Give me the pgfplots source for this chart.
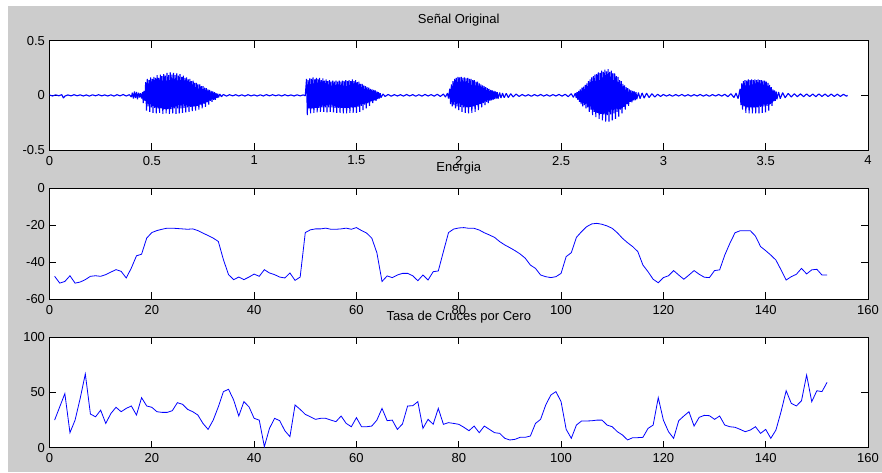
\documentclass[border=0pt]{standalone}
\usepackage{fontspec}
\setmainfont{Liberation Sans}
\usepackage{pgfplots}
\pgfplotsset{compat=1.18}

\pgfplotsset{
  matlab/.style={
    scale only axis, width=818.5pt, anchor=south west,
    axis background/.style={fill=white},
    axis line style={black, line width=0.8pt},
    tick align=inside, tick pos=both,
    major tick length=7pt,
    every tick/.style={black, line width=0.8pt},
    tick label style={font=\fontsize{13}{15}\selectfont},
    xticklabel style={yshift=-2.5pt},
    yticklabel style={xshift=-1pt},
    title style={font=\fontsize{13}{15}\selectfont, at={(0.5,1)}, anchor=base, yshift=11pt, inner sep=0pt},
  },
}

\begin{document}
\begin{tikzpicture}
\path[use as bounding box] (0,0) rectangle (882pt,472pt);
\fill[white] (0,0) rectangle (882pt,472pt);
\fill[black!20] (8pt,0) rectangle (882pt,466pt);

% --- original signal ---
\begin{axis}[matlab, at={(49.5pt,322pt)}, height=109.3pt,
  xmin=0, xmax=4, ymin=-0.5, ymax=0.5,
  xtick={0,0.5,1,1.5,2,2.5,3,3.5,4}, xticklabels={0,0.5,1,1.5,2,2.5,3,3.5,4},
  ytick={-0.5,0,0.5}, yticklabels={-0.5,0,0.5},
  title={Señal Original}]
\addplot[blue, line width=1.1pt, line join=bevel] coordinates {
(0.000,0.004) (0.015,-0.006) (0.030,0.005) (0.045,-0.004) (0.060,0.006) (0.068,-0.025) (0.075,-0.007) (0.090,0.004)
(0.105,-0.005) (0.120,0.006) (0.135,-0.004) (0.150,0.005) (0.165,-0.006) (0.180,0.004) (0.195,-0.007) (0.210,0.005)
(0.225,-0.004) (0.240,0.006) (0.255,-0.005) (0.270,0.004) (0.285,-0.006) (0.300,0.005) (0.315,-0.007) (0.330,0.006)
(0.345,-0.005) (0.360,0.008) (0.375,-0.006) (0.390,0.006)
(0.400,-0.015) (0.405,0.025) (0.410,-0.030) (0.415,0.035) (0.420,-0.025) (0.425,0.030) (0.430,-0.035) (0.435,0.025)
(0.440,-0.020) (0.445,0.020) (0.450,-0.030) (0.455,0.030) (0.458,-0.070) (0.462,0.040) (0.466,-0.050)
(0.470,0.120) (0.474,-0.140) (0.478,0.150) (0.482,-0.100) (0.486,0.140) (0.490,-0.150) (0.494,0.165) (0.498,-0.110)
(0.502,0.150) (0.506,-0.160) (0.510,0.170) (0.514,-0.115) (0.518,0.160) (0.522,-0.165) (0.526,0.185) (0.530,-0.120)
(0.534,0.160) (0.538,-0.160) (0.542,0.190) (0.546,-0.120) (0.550,0.175) (0.554,-0.170) (0.558,0.195) (0.562,-0.125)
(0.566,0.180) (0.570,-0.165) (0.574,0.205) (0.578,-0.125) (0.582,0.185) (0.586,-0.170) (0.590,0.210) (0.594,-0.125)
(0.598,0.190) (0.602,-0.165) (0.606,0.205) (0.610,-0.120) (0.614,0.185) (0.618,-0.170) (0.622,0.200) (0.626,-0.120)
(0.630,0.180) (0.634,-0.165) (0.638,0.195) (0.642,-0.120) (0.646,0.170) (0.650,-0.160) (0.654,0.180) (0.658,-0.115)
(0.662,0.160) (0.666,-0.155) (0.670,0.165) (0.674,-0.110) (0.678,0.145) (0.682,-0.150) (0.686,0.150) (0.690,-0.105)
(0.694,0.130) (0.698,-0.145) (0.702,0.135) (0.706,-0.100) (0.710,0.115) (0.714,-0.140) (0.718,0.115) (0.722,-0.095)
(0.726,0.100) (0.730,-0.130) (0.734,0.100) (0.738,-0.085) (0.742,0.085) (0.746,-0.120) (0.750,0.085) (0.754,-0.075)
(0.758,0.070) (0.762,-0.105) (0.766,0.065) (0.770,-0.065) (0.774,0.055) (0.778,-0.085) (0.782,0.050) (0.786,-0.050)
(0.790,0.040) (0.794,-0.060) (0.798,0.035) (0.802,-0.040) (0.806,0.030) (0.810,-0.040) (0.814,0.020) (0.818,-0.025)
(0.822,0.015) (0.826,-0.020)
(0.832,0.012) (0.840,-0.012) (0.850,0.008) (0.865,-0.007) (0.880,0.006) (0.895,-0.005) (0.910,0.006) (0.925,-0.006)
(0.940,0.005) (0.955,-0.007) (0.970,0.006) (0.985,-0.005) (1.000,0.004) (1.015,-0.006) (1.030,0.005) (1.045,-0.006)
(1.060,0.007) (1.075,-0.005) (1.090,0.006) (1.105,-0.004) (1.120,0.005) (1.135,-0.006) (1.150,0.006) (1.165,-0.005)
(1.180,0.004) (1.195,-0.006) (1.210,0.005) (1.225,-0.005) (1.240,0.004) (1.250,-0.004)
(1.256,0.150) (1.260,-0.180) (1.264,0.140) (1.268,-0.120) (1.272,0.155) (1.276,-0.165) (1.280,0.150) (1.284,-0.120)
(1.288,0.165) (1.292,-0.160) (1.296,0.145) (1.300,-0.115) (1.304,0.160) (1.308,-0.155) (1.312,0.150) (1.316,-0.115)
(1.320,0.160) (1.324,-0.150) (1.328,0.140) (1.332,-0.110) (1.336,0.155) (1.340,-0.150) (1.344,0.135) (1.348,-0.110)
(1.352,0.145) (1.356,-0.155) (1.360,0.130) (1.364,-0.110) (1.368,0.140) (1.372,-0.150) (1.376,0.125) (1.380,-0.110)
(1.384,0.135) (1.388,-0.155) (1.392,0.125) (1.396,-0.115) (1.400,0.135) (1.404,-0.160) (1.408,0.125) (1.412,-0.115)
(1.416,0.135) (1.420,-0.160) (1.424,0.125) (1.428,-0.115) (1.432,0.135) (1.436,-0.165) (1.440,0.130) (1.444,-0.115)
(1.448,0.140) (1.452,-0.165) (1.456,0.130) (1.460,-0.115) (1.464,0.140) (1.468,-0.160) (1.472,0.130) (1.476,-0.110)
(1.480,0.145) (1.484,-0.160) (1.488,0.130) (1.492,-0.110) (1.496,0.140) (1.500,-0.160) (1.504,0.120) (1.508,-0.105)
(1.512,0.125) (1.516,-0.150) (1.520,0.105) (1.524,-0.095) (1.528,0.105) (1.532,-0.135) (1.536,0.090) (1.540,-0.085)
(1.544,0.085) (1.548,-0.120) (1.552,0.075) (1.556,-0.070) (1.560,0.070) (1.564,-0.095) (1.568,0.060) (1.572,-0.055)
(1.576,0.055) (1.580,-0.070) (1.584,0.050) (1.588,-0.045) (1.592,0.045) (1.596,-0.050) (1.600,0.035) (1.604,-0.035)
(1.608,0.030) (1.612,-0.030) (1.616,0.020) (1.620,-0.020)
(1.630,0.012) (1.640,-0.010) (1.655,0.008) (1.670,-0.008) (1.685,0.007) (1.700,-0.006) (1.715,0.006) (1.730,-0.007)
(1.745,0.008) (1.760,-0.006) (1.775,0.007) (1.790,-0.008) (1.805,0.006) (1.820,-0.007) (1.835,0.008) (1.850,-0.006)
(1.865,0.007) (1.880,-0.008) (1.895,0.010) (1.910,-0.010) (1.925,0.012) (1.935,-0.015) (1.945,0.020) (1.950,-0.030)
(1.956,0.060) (1.960,-0.080) (1.964,0.100) (1.968,-0.100) (1.972,0.130) (1.976,-0.090) (1.980,0.150) (1.984,-0.120)
(1.988,0.160) (1.992,-0.100) (1.996,0.170) (2.000,-0.135) (2.004,0.165) (2.008,-0.105) (2.012,0.170) (2.016,-0.150)
(2.020,0.160) (2.024,-0.110) (2.028,0.165) (2.032,-0.160) (2.036,0.155) (2.040,-0.110) (2.044,0.160) (2.048,-0.165)
(2.052,0.150) (2.056,-0.105) (2.060,0.150) (2.064,-0.160) (2.068,0.140) (2.072,-0.100) (2.076,0.140) (2.080,-0.150)
(2.084,0.125) (2.088,-0.090) (2.092,0.125) (2.096,-0.135) (2.100,0.110) (2.104,-0.080) (2.108,0.100) (2.112,-0.110)
(2.116,0.090) (2.120,-0.070) (2.124,0.085) (2.128,-0.090) (2.132,0.075) (2.136,-0.060) (2.140,0.065) (2.144,-0.070)
(2.148,0.060) (2.152,-0.050) (2.156,0.050) (2.160,-0.045) (2.164,0.045) (2.168,-0.040) (2.172,0.040) (2.176,-0.035)
(2.180,0.035) (2.184,-0.030) (2.188,0.030) (2.192,-0.030)
(2.200,0.025) (2.206,-0.025) (2.214,0.020) (2.222,-0.022) (2.232,0.018) (2.242,-0.020) (2.254,0.015) (2.266,-0.015)
(2.280,0.012) (2.295,-0.010)
(2.310,0.008) (2.325,-0.007) (2.340,0.006) (2.355,-0.008) (2.370,0.007) (2.385,-0.006) (2.400,0.008) (2.415,-0.007)
(2.430,0.006) (2.445,-0.008) (2.460,0.007) (2.475,-0.006) (2.490,0.008) (2.505,-0.007) (2.520,0.010) (2.535,-0.012)
(2.550,0.015) (2.560,-0.018)
(2.570,0.020) (2.574,-0.025) (2.578,0.030) (2.582,-0.040) (2.586,0.040) (2.590,-0.060) (2.594,0.055) (2.598,-0.080)
(2.602,0.070) (2.606,-0.100) (2.610,0.080) (2.614,-0.090) (2.618,0.095) (2.622,-0.120) (2.626,0.110) (2.630,-0.110)
(2.634,0.130) (2.638,-0.150) (2.642,0.145) (2.646,-0.130) (2.650,0.165) (2.654,-0.180) (2.658,0.175) (2.662,-0.150)
(2.666,0.190) (2.670,-0.200) (2.674,0.195) (2.678,-0.160) (2.682,0.210) (2.686,-0.215) (2.690,0.205) (2.694,-0.170)
(2.698,0.225) (2.702,-0.230) (2.706,0.215) (2.710,-0.175) (2.714,0.235) (2.718,-0.240) (2.722,0.220) (2.726,-0.180)
(2.730,0.240) (2.734,-0.240) (2.738,0.215) (2.742,-0.175) (2.746,0.225) (2.750,-0.230) (2.754,0.200) (2.758,-0.165)
(2.762,0.200) (2.766,-0.215) (2.770,0.175) (2.774,-0.150) (2.778,0.170) (2.782,-0.195) (2.786,0.140) (2.790,-0.130)
(2.794,0.130) (2.798,-0.165) (2.802,0.105) (2.806,-0.105) (2.810,0.090) (2.814,-0.130) (2.818,0.075) (2.822,-0.080)
(2.826,0.065) (2.830,-0.095) (2.834,0.055) (2.838,-0.060) (2.842,0.045) (2.846,-0.065) (2.850,0.040) (2.854,-0.045)
(2.858,0.035) (2.862,-0.045) (2.866,0.030) (2.870,-0.035) (2.878,0.025) (2.886,-0.030) (2.896,0.022) (2.906,-0.025)
(2.918,0.020) (2.930,-0.020) (2.944,0.015) (2.958,-0.015)
(2.972,0.010) (2.986,-0.010) (3.000,0.008) (3.015,-0.007) (3.030,0.006) (3.045,-0.008) (3.060,0.007) (3.075,-0.006)
(3.090,0.008) (3.105,-0.007) (3.120,0.006) (3.135,-0.008) (3.150,0.007) (3.165,-0.006) (3.180,0.008) (3.195,-0.007)
(3.210,0.006) (3.225,-0.008) (3.240,0.007) (3.255,-0.006) (3.270,0.008) (3.285,-0.007) (3.300,0.010) (3.315,-0.012)
(3.330,0.015) (3.345,-0.020) (3.355,0.020) (3.365,-0.030)
(3.375,0.060) (3.379,-0.090) (3.383,0.110) (3.387,-0.130) (3.391,0.130) (3.395,-0.100) (3.399,0.140) (3.403,-0.160)
(3.407,0.135) (3.411,-0.110) (3.415,0.145) (3.419,-0.165) (3.423,0.140) (3.427,-0.110) (3.431,0.145) (3.435,-0.165)
(3.439,0.140) (3.443,-0.110) (3.447,0.145) (3.451,-0.165) (3.455,0.140) (3.459,-0.110) (3.463,0.145) (3.467,-0.165)
(3.471,0.140) (3.475,-0.105) (3.479,0.140) (3.483,-0.160) (3.487,0.135) (3.491,-0.100) (3.495,0.135) (3.499,-0.155)
(3.503,0.125) (3.507,-0.095) (3.511,0.115) (3.515,-0.140) (3.519,0.095) (3.523,-0.080) (3.527,0.075) (3.531,-0.095)
(3.535,0.055) (3.539,-0.055) (3.543,0.045) (3.547,-0.050) (3.551,0.035) (3.555,-0.035) (3.563,0.030) (3.571,-0.030)
(3.583,0.025) (3.595,-0.022)
(3.610,0.018) (3.625,-0.015) (3.640,0.015) (3.655,-0.012) (3.670,0.014) (3.685,-0.012) (3.700,0.013) (3.715,-0.011)
(3.730,0.012) (3.745,-0.012) (3.760,0.013) (3.775,-0.010) (3.790,0.012) (3.805,-0.011) (3.820,0.012) (3.835,-0.010)
(3.850,0.011) (3.865,-0.010) (3.880,0.010) (3.895,-0.008) (3.900,0.000)
};
\end{axis}

% --- energy ---
\begin{axis}[matlab, at={(49.5pt,173pt)}, height=110.7pt,
  xmin=0, xmax=160, ymin=-60, ymax=0,
  xtick={0,20,...,160}, xticklabels={0,20,40,60,80,100,120,140,160},
  ytick={-60,-40,-20,0}, yticklabels={-60,-40,-20,0},
  title={Energia}]
\addplot[blue, line width=0.8pt] coordinates {
(1,-47.7) (2,-51.4) (3,-50.5) (4,-47.4) (5,-51.4) (6,-50.8) (7,-49.5) (8,-47.7) (9,-47.4) (10,-47.7)
(11,-46.8) (12,-45.4) (13,-44.1) (14,-45.0) (15,-48.6) (16,-43.2) (17,-36.6) (18,-35.7) (19,-27.0) (20,-24.0)
(21,-22.9) (22,-22.2) (23,-21.6) (24,-21.6) (25,-21.8) (26,-22.0) (27,-22.2) (28,-22.0) (29,-22.9) (30,-24.3)
(31,-25.6) (32,-27.0) (33,-28.8) (34,-38.7) (35,-46.8) (36,-49.5) (37,-48.1) (38,-49.5) (39,-48.1) (40,-46.5)
(41,-47.7) (42,-44.1) (43,-45.9) (44,-46.8) (45,-48.1) (46,-48.6) (47,-45.9) (48,-49.9) (49,-48.1) (50,-24.0)
(51,-22.5) (52,-22.0) (53,-22.0) (54,-21.6) (55,-22.2) (56,-22.2) (57,-22.0) (58,-21.6) (59,-22.2) (60,-21.3)
(61,-22.9) (62,-24.3) (63,-27.0) (64,-35.0) (65,-50.5) (66,-47.5) (67,-48.4) (68,-47.0) (69,-46.1) (70,-46.1)
(71,-47.4) (72,-50.1) (73,-47.0) (74,-49.7) (75,-45.2) (76,-44.8) (77,-34.3) (78,-24.0) (79,-22.1) (80,-21.5)
(81,-21.3) (82,-21.7) (83,-21.7) (84,-22.6) (85,-24.1) (86,-25.3) (87,-26.6) (88,-28.9) (89,-30.7) (90,-32.2)
(91,-33.8) (92,-35.6) (93,-37.9) (94,-41.6) (95,-43.4) (96,-47.0) (97,-47.9) (98,-48.4) (99,-47.9) (100,-46.1)
(101,-37.0) (102,-34.9) (103,-26.6) (104,-23.5) (105,-20.8) (106,-19.3) (107,-19.0) (108,-19.5) (109,-20.4) (110,-21.7)
(111,-24.1) (112,-27.1) (113,-29.5) (114,-31.6) (115,-34.3) (116,-41.6) (117,-45.2) (118,-49.3) (119,-51.2) (120,-48.4)
(121,-47.4) (122,-44.6) (123,-47.0) (124,-49.3) (125,-47.0) (126,-44.6) (127,-46.6) (128,-48.2) (129,-48.4) (130,-44.6)
(131,-44.2) (132,-36.2) (133,-29.8) (134,-24.1) (135,-23.0) (136,-23.0) (137,-23.0) (138,-25.9) (139,-31.6) (140,-33.8)
(141,-36.2) (142,-38.9) (143,-44.2) (144,-49.7) (145,-47.9) (146,-46.6) (147,-43.4) (148,-46.4) (149,-44.2) (150,-43.9)
(151,-47.0) (152,-47.0)
};
\end{axis}

% --- zero crossing rate ---
\begin{axis}[matlab, at={(49.5pt,24.3pt)}, height=110.4pt,
  xmin=0, xmax=160, ymin=0, ymax=100,
  xtick={0,20,...,160}, xticklabels={0,20,40,60,80,100,120,140,160},
  ytick={0,50,100}, yticklabels={0,50,100},
  title={Tasa de Cruces por Cero}]
\addplot[blue, line width=0.8pt] coordinates {
(1,25.0) (2,37.0) (3,49.0) (4,13.6) (5,25.0) (6,44.7) (7,66.8) (8,30.5) (9,28.0) (10,34.0)
(11,22.0) (12,31.0) (13,36.6) (14,32.6) (15,35.6) (16,37.8) (17,29.6) (18,45.3) (19,37.8) (20,36.6)
(21,32.6) (22,32.0) (23,32.0) (24,33.5) (25,40.8) (26,39.3) (27,34.7) (28,32.6) (29,29.6) (30,22.0)
(31,16.6) (32,25.0) (33,37.0) (34,50.8) (35,52.9) (36,43.2) (37,28.7) (38,41.7) (39,37.0) (40,26.6)
(41,25.0) (42,1.0) (43,17.5) (44,26.6) (45,24.5) (46,15.4) (47,10.0) (48,38.7) (49,34.7) (50,30.2)
(51,28.0) (52,25.7) (53,26.6) (54,26.6) (55,25.0) (56,23.6) (57,28.7) (58,22.0) (59,19.0) (60,27.2)
(61,19.0) (62,19.0) (63,19.6) (64,25.0) (65,35.6) (66,24.5) (67,25.0) (68,16.6) (69,21.5) (70,37.8)
(71,38.0) (72,41.7) (73,17.5) (74,25.7) (75,21.2) (76,35.6) (77,21.2) (78,22.7) (79,22.0) (80,21.2)
(81,18.5) (82,15.4) (83,19.6) (84,13.6) (85,19.6) (86,16.6) (87,13.6) (88,13.0) (89,8.5) (90,7.0)
(91,7.6) (92,9.4) (93,9.4) (94,10.6) (95,22.0) (96,25.7) (97,38.7) (98,47.7) (99,50.8) (100,41.7)
(101,16.6) (102,8.5) (103,20.5) (104,24.2) (105,24.2) (106,24.4) (107,25.0) (108,25.0) (109,20.5) (110,19.0)
(111,14.5) (112,11.5) (113,7.0) (114,9.1) (115,9.1) (116,9.4) (117,17.5) (118,20.5) (119,45.3) (120,25.0)
(121,14.5) (122,8.5) (123,24.5) (124,28.7) (125,32.6) (126,19.6) (127,27.5) (128,29.3) (129,29.0) (130,25.7)
(131,28.7) (132,20.5) (133,19.0) (134,18.5) (135,16.6) (136,14.5) (137,16.0) (138,19.0) (139,13.0) (140,16.6)
(141,8.5) (142,16.0) (143,32.6) (144,51.6) (145,40.2) (146,37.8) (147,42.6) (148,65.8) (149,41.7) (150,51.6)
(151,50.8) (152,59.2)
};
\end{axis}
\end{tikzpicture}
\end{document}
